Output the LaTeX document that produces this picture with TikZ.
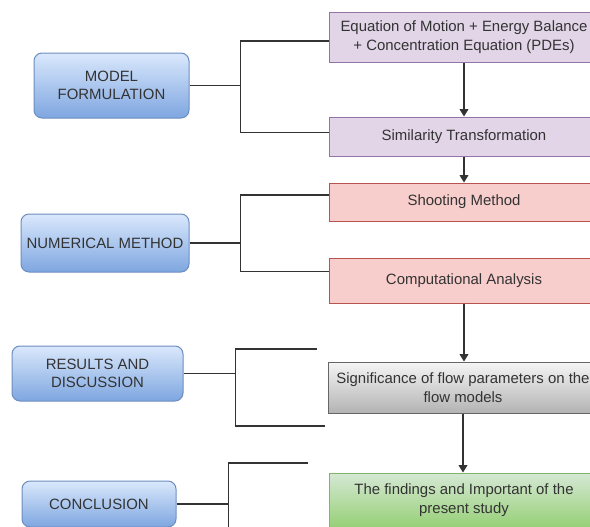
\documentclass[tikz,border=0pt]{standalone}
\usepackage{fontspec}
\setmainfont{Liberation Sans}
\usetikzlibrary{positioning, arrows.meta, calc}
\definecolor{textgrey}{HTML}{333333}
\definecolor{linegrey}{HTML}{333333}
\definecolor{bluetop}{HTML}{DAE8FC}
\definecolor{bluebottom}{HTML}{7EA6E0}
\definecolor{blueborder}{HTML}{6C8EBF}
\definecolor{lilacfill}{HTML}{E1D5E7}
\definecolor{lilacborder}{HTML}{9673A6}
\definecolor{rosefill}{HTML}{F8CECC}
\definecolor{roseborder}{HTML}{B85450}
\definecolor{greytop}{HTML}{F5F5F5}
\definecolor{greybottom}{HTML}{B3B3B3}
\definecolor{greyborder}{HTML}{666666}
\definecolor{greentop}{HTML}{D5E8D4}
\definecolor{greenbottom}{HTML}{97D077}
\definecolor{greenborder}{HTML}{82B366}

\begin{document}
\begin{tikzpicture}[x=0.75pt, y=-0.75pt,
    every node/.style={font=\fontsize{11.2}{14}\selectfont, text=textgrey, align=center, inner sep=0pt},
    phase/.style={draw=blueborder, line width=0.75pt, top color=bluetop, bottom color=bluebottom, rounded corners=6pt},
    task/.style={line width=0.75pt, minimum width=202.5pt},
    lilac/.style={task, draw=lilacborder, fill=lilacfill},
    rose/.style={task, draw=roseborder, fill=rosefill},
    silver/.style={task, draw=greyborder, top color=greytop, bottom color=greybottom},
    leaf/.style={task, draw=greenborder, top color=greentop, bottom color=greenbottom},
    flow/.style={draw=linegrey, line width=0.9pt, -{Triangle[width=6.5pt,length=5.5pt]}},
    bracket/.style={draw=linegrey, line width=1pt}]
  \clip (0,0) rectangle (590,526);

  % phases on the left
  \node[phase, minimum width=116.25pt, minimum height=48.75pt] (model) at (111.5,85.5) {MODEL\\FORMULATION};
  \node[phase, minimum width=126pt, minimum height=43.5pt] (numeric) at (105,243) {NUMERICAL METHOD};
  \node[phase, minimum width=128.25pt, minimum height=41.25pt] (results) at (97.5,373.5) {RESULTS AND\\DISCUSSION};
  \node[phase, minimum width=115.5pt, minimum height=34.5pt] (conclusion) at (99,504) {CONCLUSION};

  % steps on the right
  \node[lilac, minimum height=37.5pt] (motion) at (464,37) {Equation of Motion + Energy Balance\\+ Concentration Equation (PDEs)};
  \node[lilac, minimum height=29.25pt] (similarity) at (464,136.5) {Similarity Transformation};
  \node[rose, minimum height=28.5pt] (shooting) at (464,202) {Shooting Method};
  \node[rose, minimum height=33.75pt] (computation) at (464,280.5) {Computational Analysis};
  \node[silver, minimum height=38.25pt] (significance) at (463,387.5) {Significance of flow parameters on the\\flow models};
  \node[leaf, minimum height=40.5pt] (findings) at (464,500) {The findings and Important of the\\present study};

  \draw[flow] (motion) -- (similarity);
  \draw[flow] (similarity) -- (shooting);
  \draw[flow] (computation) -- (computation |- significance.north);
  \draw[flow] (significance) -- (significance |- findings.north);

  % brackets
  \draw[bracket] (model.east) -- ++(51,0) coordinate (modelfork);
  \draw[bracket] ($(motion.west)+(0,4)$) -| (modelfork) |- ($(similarity.west)+(0,-4)$);

  \draw[bracket] (numeric.east) -- ++(51,0) coordinate (numericfork);
  \draw[bracket] ($(shooting.west)+(0,-7)$) -| (numericfork) |- ($(computation.west)+(0,-9)$);

  \coordinate (sigtop) at (317,349);
  \coordinate (sigbottom) at (325,426);
  \draw[bracket] (results.east) -- ++(52,0) coordinate (resultsfork);
  \draw[bracket] (sigtop) -| (resultsfork) |- (sigbottom);

  \coordinate (findtop) at (308,463);
  \draw[bracket] (conclusion.east) -- ++(52,0) coordinate (conclusionfork);
  \draw[bracket] (findtop) -| (conclusionfork) -- ++(0,40);
\end{tikzpicture}
\end{document}
